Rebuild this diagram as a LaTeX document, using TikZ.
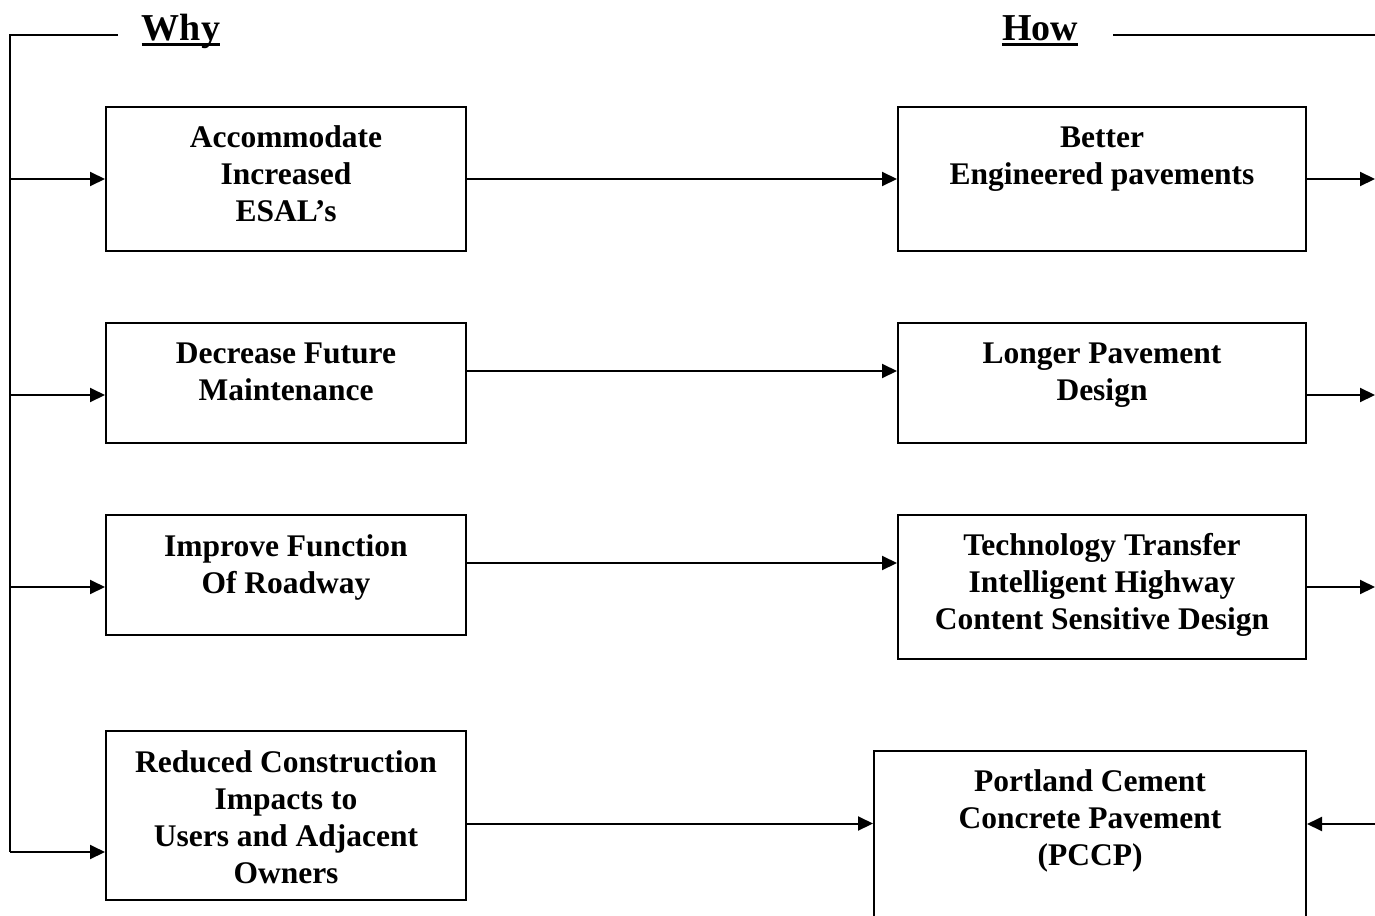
\documentclass[tikz,border=0pt]{standalone}
\usepackage{fontspec}
\setmainfont{Liberation Serif}
\usetikzlibrary{arrows.meta}
\begin{document}
\begin{tikzpicture}[x=1pt,y=-1pt,
  box/.style={draw, line width=2pt, inner sep=0pt},
  lbl/.style={font=\fontsize{31.5}{37}\selectfont\bfseries, align=center, inner sep=0pt},
  hdr/.style={font=\fontsize{38}{44}\selectfont\bfseries, inner sep=0pt},
  conn/.style={line width=2pt, -{Triangle[length=15pt,width=14pt]}},
  plainline/.style={line width=2pt},
  uline/.style={line width=3pt}]
\clip (0,0) rectangle (1375,915);
% coordinates for the free ends
\coordinate (L) at (10,35);
\coordinate (E) at (1375,35);
\coordinate (Ltop) at (118,35);
\coordinate (Rtop) at (1113,35);
% headers
\node[hdr, anchor=base] (why) at (181,41) {Why};
\node[hdr, anchor=base] (how) at (1040,41) {How};
\draw[uline] ([yshift=-3.5pt]why.base west) -- ([yshift=-3.5pt]why.base east);
\draw[uline] ([yshift=-3.5pt]how.base west) -- ([yshift=-3.5pt]how.base east);
% left boxes
\node[box, minimum width=360, minimum height=144] (a1) at (286,179) {};
\node[box, minimum width=360, minimum height=120] (a2) at (286,383) {};
\node[box, minimum width=360, minimum height=120] (a3) at (286,575) {};
\node[box, minimum width=360, minimum height=169] (a4) at (286,815.5) {};
% right boxes
\node[box, minimum width=408, minimum height=144] (b1) at (1102,179) {};
\node[box, minimum width=408, minimum height=120] (b2) at (1102,383) {};
\node[box, minimum width=408, minimum height=144] (b3) at (1102,587) {};
\node[box, minimum width=432, minimum height=209] (b4) at (1090,855.5) {};
% labels
\node[lbl] (ta1) at (286,173.5) {Accommodate\\Increased\\ESAL’s};
\node[lbl] (ta2) at (286,372) {Decrease Future\\Maintenance};
\node[lbl] (ta3) at (286,567) {Improve Function\\Of Roadway};
\node[lbl] (ta4) at (286,817) {Reduced Construction\\Impacts to\\Users and Adjacent\\Owners};
\node[lbl] (tb1) at (1102,159) {Better\\Engineered pavements};
\node[lbl] (tb2) at (1102,375) {Longer Pavement\\Design};
\node[lbl] (tb3) at (1102,585) {Technology Transfer\\Intelligent Highway\\Content Sensitive Design};
\node[lbl] (tb4) at (1090,821) {Portland Cement\\Concrete Pavement\\(PCCP)};
% top lines and left spine
\draw[plainline] (Ltop) -- (L) -- ([yshift=-36.5pt]a4.west -| L);
\draw[plainline] (Rtop) -- (E);
% left arrows
\draw[conn] (a1.west -| L) -- (a1.west);
\draw[conn] ([yshift=-12pt]a2.west -| L) -- ([yshift=-12pt]a2.west);
\draw[conn] ([yshift=-12pt]a3.west -| L) -- ([yshift=-12pt]a3.west);
\draw[conn] ([yshift=-36.5pt]a4.west -| L) -- ([yshift=-36.5pt]a4.west);
% middle arrows
\draw[conn] (a1.east) -- (a1.east -| b1.west);
\draw[conn] ([yshift=12pt]a2.east) -- ([yshift=12pt]a2.east -| b2.west);
\draw[conn] ([yshift=12pt]a3.east) -- ([yshift=12pt]a3.east -| b3.west);
\draw[conn] ([yshift=-8pt]a4.east) -- ([yshift=-8pt]a4.east -| b4.west);
% right arrows
\draw[conn] (b1.east) -- (b1.east -| E);
\draw[conn] ([yshift=-12pt]b2.east) -- ([yshift=-12pt]b2.east -| E);
\draw[conn] (b3.east) -- (b3.east -| E);
\draw[conn] ([yshift=31.5pt]b4.east -| E) -- ([yshift=31.5pt]b4.east);
\end{tikzpicture}
\end{document}
